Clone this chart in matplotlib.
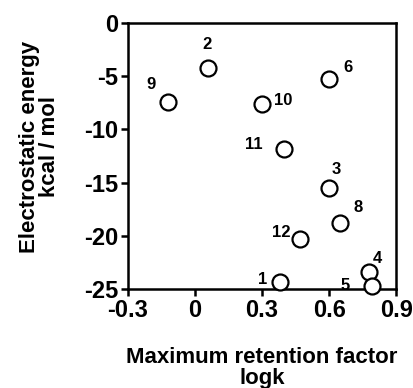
import numpy as np
import matplotlib
matplotlib.use('Agg')
import matplotlib.pyplot as plt

plt.rcParams['font.family'] = ['Liberation Sans', 'DejaVu Sans']
plt.rcParams['font.weight'] = 'bold'
plt.rcParams['axes.unicode_minus'] = False

# compound numbers, log k and electrostatic energy
labels = ['1', '2', '3', '4', '5', '6', '8', '9', '10', '11', '12']
logk = [0.38, 0.06, 0.60, 0.78, 0.79, 0.60, 0.65, -0.12, 0.30, 0.40, 0.47]
energy = [-24.3, -4.2, -15.5, -23.4, -24.7, -5.3, -18.8, -7.4, -7.6, -11.8, -20.3]
# label offsets in pixels (dx, dy)
offsets = {'1': (-17, 2), '2': (-1, 23), '3': (7, 18), '4': (8, 14), '5': (-26, 0),
           '6': (19, 12), '8': (18, 16), '9': (-17, 17), '10': (21, 3),
           '11': (-31, 4), '12': (-19, 7)}

xticks = [-0.3, 0, 0.3, 0.6, 0.9]
xticklabels = ['-0.3', '0', '0.3', '0.6', '0.9']
yticks = [0, -5, -10, -15, -20, -25]

fig = plt.figure(figsize=(4.14, 3.88), dpi=100)
ax = fig.add_axes([0.309, 0.255, 0.648, 0.686])

ax.plot(logk, energy, 'o', ms=11.5, mfc='white', mec='black', mew=1.6,
        clip_on=False, zorder=3)

for l, x, y in zip(labels, logk, energy):
    dx, dy = offsets[l]
    ax.annotate(l, (x, y), xytext=(dx, dy), textcoords='offset pixels',
                ha='center', va='center', fontsize=12, fontweight='bold')

ax.set_xlim(-0.3, 0.9)
ax.set_ylim(-25, 0)
ax.set_xticks(xticks)
ax.set_xticklabels(xticklabels)
ax.set_yticks(yticks)
ax.set_yticklabels([str(t) for t in yticks])
ax.tick_params(direction='out', length=5, width=1.8, labelsize=17, pad=2)
for s in ax.spines.values():
    s.set_linewidth(1.8)

ax.set_xlabel('Maximum retention factor\nlogk', fontsize=16, fontweight='bold',
              linespacing=1.0, labelpad=18)
ax.set_ylabel('Electrostatic energy\nkcal / mol', fontsize=16, fontweight='bold',
              linespacing=0.9)
ax.yaxis.set_label_coords(-0.255, 0.534)

fig.savefig('out.png', dpi=100)
